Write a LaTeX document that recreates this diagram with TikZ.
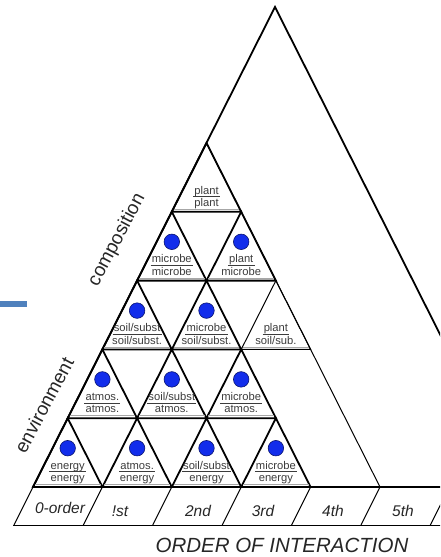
\documentclass[tikz,border=0pt]{standalone}
\usepackage{fontspec}
\setmainfont{Liberation Sans}
\definecolor{dotblue}{RGB}{18,45,235}
\definecolor{dotedge}{RGB}{10,20,110}
\definecolor{barblue}{RGB}{79,129,189}
\definecolor{ink}{RGB}{60,60,60}
% one labelled upward cell of the interaction grid:
% #1 row, #2 position in row, #3 upper label, #4 lower label, #5 dot (1/0), #6 line style
\newcommand\trianglecell[6]{%
  \pgfmathsetmacro\ax{\GX-(#1-1)*\W/2+#2*\W}%
  \pgfmathsetmacro\ay{\GY+(#1-1)*\H}%
  \pgfmathsetmacro\uy{\ay+53.5}%
  \coordinate (apex-#1-#2) at (\ax,\ay);
  \draw[#6] (apex-#1-#2) -- ++(-\W/2,\H) coordinate (bl-#1-#2) -- ++(\W,0) coordinate (br-#1-#2) -- cycle;
  \draw[ghost] ([yshift=2.6pt,xshift=1.8pt]bl-#1-#2) -- ([yshift=2.6pt,xshift=-1.8pt]br-#1-#2);
  \node[cellfont] (up-#1-#2) at (\ax,\ay+51) {#3};
  \node[cellfont] (lo-#1-#2) at (\ax,\ay+63.5) {#4};
  \draw[rule] ([xshift=-1pt]up-#1-#2.west |- 0,\uy) -- ([xshift=1pt]up-#1-#2.east |- 0,\uy);
  \ifnum#5=1 \node[dotmark] (dot-#1-#2) at (\ax,\ay+30) {};\fi
}
\begin{document}
\begin{tikzpicture}[x=1pt,y=-1pt,
  heavy/.style={line width=1.8pt,line join=miter},
  light/.style={line width=1pt},
  cellfont/.style={font=\fontsize{11.2}{12}\selectfont,text=ink,inner sep=0pt,anchor=base},
  rule/.style={line width=0.8pt,draw=ink},
  ghost/.style={line width=0.6pt,draw=black!35},
  dotmark/.style={circle,fill=dotblue,draw=dotedge,line width=0.6pt,minimum size=15.5pt,inner sep=0pt},
  orderfont/.style={font=\fontsize{15.5}{17}\selectfont\itshape,text=black!85,inner sep=0pt},
  sidefont/.style={font=\fontsize{19}{21}\selectfont,text=black!85,inner sep=0pt,rotate=62}
]
\def\W{69.4}\def\H{68.8}\def\GX{206.5}\def\GY{143}
\useasboundingbox (0,0) rectangle (440,557);
\clip (0,0) rectangle (440,557);

% blue bar on the left margin
\fill[barblue] (0,301) rectangle (27,307);

% outer triangle
\coordinate (top) at (275,7);
\coordinate (gl) at (33,487);
\coordinate (farright) at (517,487);
\coordinate (grr) at (380,487);
\coordinate (edge) at (445,487);
\draw[heavy] (gl) -- (top) -- (farright);

% grid cells
\trianglecell{1}{0}{plant}{plant}{0}{heavy}
\trianglecell{2}{0}{microbe}{microbe}{1}{heavy}
\trianglecell{2}{1}{plant}{microbe}{1}{heavy}
\trianglecell{3}{0}{soil/subst}{soil/subst.}{1}{heavy}
\trianglecell{3}{1}{microbe}{soil/subst.}{1}{heavy}
\trianglecell{3}{2}{plant}{soil/sub.}{0}{light}
\trianglecell{4}{0}{atmos.}{atmos.}{1}{heavy}
\trianglecell{4}{1}{soil/subst}{atmos.}{1}{heavy}
\trianglecell{4}{2}{microbe}{atmos.}{1}{heavy}
\trianglecell{5}{0}{energy}{energy}{1}{heavy}
\trianglecell{5}{1}{atmos.}{energy}{1}{heavy}
\trianglecell{5}{2}{soil/subst}{energy}{1}{heavy}
\trianglecell{5}{3}{microbe}{energy}{1}{heavy}

% right edge of the grid
\draw[light] (apex-1-0) -- (grr);

% order strip
\coordinate (sbl) at (13,525);
\coordinate (sbr) at (445,525);
\draw[heavy] (gl) -- (edge);
\draw[light] (sbl) -- (sbr);
\foreach \k in {0,...,6}{
  \coordinate (div-\k) at (33+\k*\W,487);
  \draw[light] (div-\k) -- ++(-19,38);
}
\node[orderfont] (o0) at (60,508) {0-order};
\node[orderfont] (o1) at (120,511) {!st};
\node[orderfont] (o2) at (198,511) {2nd};
\node[orderfont] (o3) at (263,511) {3rd};
\node[orderfont] (o4) at (333,511) {4th};
\node[orderfont] (o5) at (403,511) {5th};

\node[font=\fontsize{20.5}{22}\selectfont\itshape,text=black!85,inner sep=0pt] (title) at (282,545) {ORDER OF INTERACTION};

% side labels
\node[sidefont] (comp) at (117,240) {composition};
\node[sidefont] (env) at (44,405) {environment};
\end{tikzpicture}
\end{document}
